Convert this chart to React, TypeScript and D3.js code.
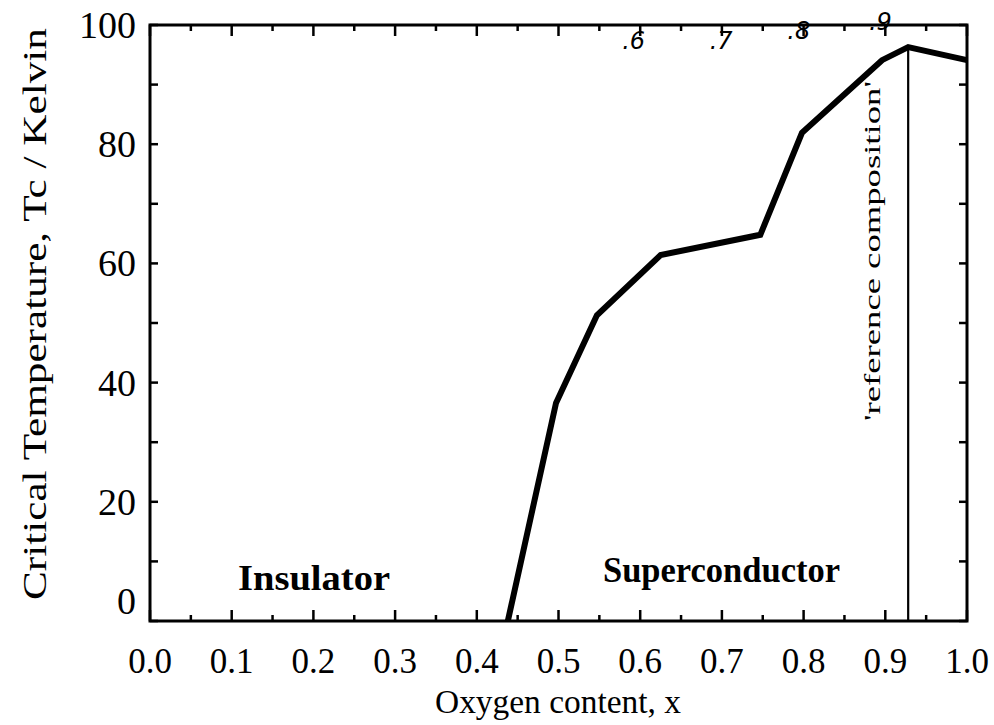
import React from "react";
import * as d3 from "d3";

const xValues = [0.438, 0.497, 0.547, 0.625, 0.747, 0.798, 0.896, 0.928, 1.0];
const tcValues = [0, 36.6, 51.3, 61.4, 64.8, 81.9, 94.1, 96.3, 94.1];
const xTickLabels = ["0.0", "0.1", "0.2", "0.3", "0.4", "0.5", "0.6", "0.7", "0.8", "0.9", "1.0"];
const yTickLabels = ["0", "20", "40", "60", "80", "100"];
const handLabels = [".6", ".7", ".8", ".9"];
const handX = [0.578, 0.685, 0.78, 0.88];
const handY = [96.0, 96.0, 97.6, 99.2];
const referenceX = 0.928;

const W = 994, H = 725;
const L = 150, R = 967, T = 25, B = 621;

export default function App() {
  const x = d3.scaleLinear().domain([0, 1]).range([L, R]);
  const y = d3.scaleLinear().domain([0, 100]).range([B, T]);
  const pts: [number, number][] = xValues.map((v, i) => [v, tcValues[i]]);
  const line = d3.line<[number, number]>().x(d => x(d[0])).y(d => y(d[1]));
  const xTicks = d3.range(0, 21).map(i => i * 0.05);
  const yTicks = d3.range(0, 11).map(i => i * 10);
  const font = "'Liberation Serif', 'Times New Roman', serif";
  return (
    <svg width={W} height={H} style={{ position: "absolute", left: 0, top: 0, background: "#fff" }}>
      <rect x={0} y={0} width={W} height={H} fill="#fff" />
      {xTicks.map((t, i) => {
        const len = i % 2 === 0 ? 11 : 6;
        return (
          <g key={"xt" + i}>
            <line x1={x(t)} x2={x(t)} y1={B} y2={B - len} stroke="#000" strokeWidth={2.5} />
            <line x1={x(t)} x2={x(t)} y1={T} y2={T + len} stroke="#000" strokeWidth={2.5} />
          </g>
        );
      })}
      {yTicks.map((t, i) => (
        <g key={"yt" + i}>
          <line x1={L} x2={L + 8} y1={y(t)} y2={y(t)} stroke="#000" strokeWidth={2.5} />
          <line x1={R} x2={R - 8} y1={y(t)} y2={y(t)} stroke="#000" strokeWidth={2.5} />
        </g>
      ))}
      <rect x={L} y={T} width={R - L} height={B - T} fill="none" stroke="#000" strokeWidth={3} />
      <line x1={x(referenceX)} x2={x(referenceX)} y1={y(96.3)} y2={B} stroke="#000" strokeWidth={2.2} />
      <path d={line(pts) || ""} fill="none" stroke="#000" strokeWidth={6} strokeLinejoin="miter" />
      {xTickLabels.map((s, i) => (
        <text key={"xl" + i} x={x(i / 10)} y={673} textAnchor="middle" fontFamily={font} fontSize={35} fill="#000">{s}</text>
      ))}
      {yTickLabels.map((s, i) => (
        <text key={"yl" + i} x={136} y={i === 0 ? 614 : y(i * 20) + 13} textAnchor="end" fontFamily={font} fontSize={38} fill="#000">{s}</text>
      ))}
      <text x={558} y={713} textAnchor="middle" fontFamily={font} fontSize={33} textLength={246} lengthAdjust="spacingAndGlyphs" fill="#000">Oxygen content, x</text>
      <text transform={`translate(46, 314) rotate(-90)`} textAnchor="middle" fontFamily={font} fontSize={33} textLength={572} lengthAdjust="spacingAndGlyphs" fill="#000">Critical Temperature, Tc / Kelvin</text>
      <text x={238} y={590} fontFamily={font} fontSize={35} fontWeight="bold" textLength={152} lengthAdjust="spacingAndGlyphs" fill="#000">Insulator</text>
      <text x={603} y={582} fontFamily={font} fontSize={35} fontWeight="bold" textLength={237} lengthAdjust="spacingAndGlyphs" fill="#000">Superconductor</text>
      <text transform={`translate(${x(referenceX) - 28}, 421) rotate(-90)`} fontFamily={font} fontSize={23} textLength={340} lengthAdjust="spacingAndGlyphs" fill="#000">'reference composition'</text>
      {handLabels.map((s, i) => (
        <text key={"hl" + i} x={x(handX[i])} y={y(handY[i])} fontFamily="'DejaVu Sans', sans-serif" fontStyle="italic" fontSize={24} fill="#000">{s}</text>
      ))}
    </svg>
  );
}
